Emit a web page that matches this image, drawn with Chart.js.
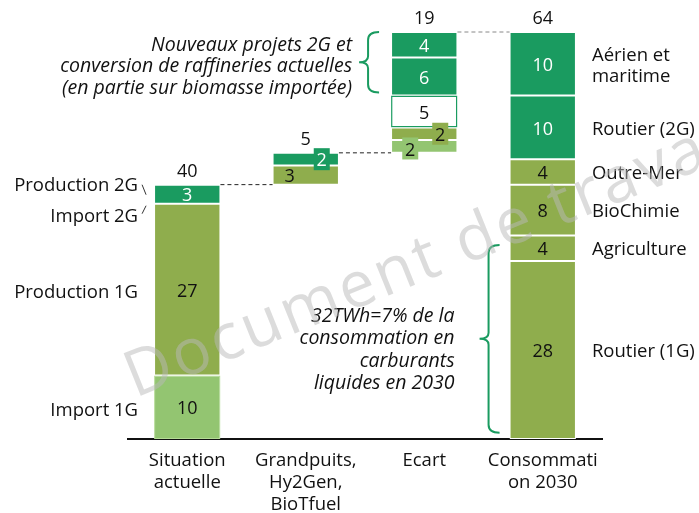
<!DOCTYPE html>
<html>
<head>
<meta charset="utf-8">
<script src="https://cdn.jsdelivr.net/npm/chart.js@4"></script>
<style>
  html, body { margin: 0; padding: 0; background: #fff; }
  #wrap { width: 699px; height: 513px; }
</style>
</head>
<body>
<div id="wrap"><canvas id="chart"></canvas></div>
<script>
const categories = [["Situation", "actuelle"], ["Grandpuits,", "Hy2Gen,", "BioTfuel"], "Ecart", ["Consommati", "on 2030"]];

const situationNames = ["Import 1G", "Production 1G", "Import 2G", "Production 2G"];
const situationValues = [10, 27, 0, 3];
const grandpuitsValues = [3, 2];
const ecartValues = [2, 2, 5, 6, 4];
const consommationNames = ["Routier (1G)", "Agriculture", "BioChimie", "Outre-Mer", "Routier (2G)", ["Aérien et", "maritime"]];
const consommationValues = [28, 4, 8, 4, 10, 10];

const ecartNote = ["Nouveaux projets 2G et", "conversion de raffineries actuelles", "(en partie sur biomasse importée)"];
const totalNote = ["32TWh=7% de la", "consommation en", "carburants", "liquides en 2030"];

const DARK = "#1a9b60";
const OLIVE = "#8fad4d";
const LIGHT = "#93c571";
const FONT = "'Open Sans', sans-serif";

const sum = arr => arr.reduce((a, b) => a + b, 0);

// columns of the waterfall
const columns = [
    { values: situationValues, base: 0, colors: [LIGHT, OLIVE, OLIVE, DARK] },
    { values: grandpuitsValues, base: sum(situationValues), colors: [OLIVE, DARK],
      labelStyle: [{ dx: -16 }, { dx: 16, box: true }] },
    { values: ecartValues, base: sum(situationValues) + sum(grandpuitsValues), colors: [LIGHT, OLIVE, "#ffffff", DARK, DARK],
      labelStyle: [{ dx: -14, dy: 2, box: true }, { dx: 16, box: true }, {}, {}, {}] },
    { values: consommationValues, base: 0, colors: [OLIVE, OLIVE, OLIVE, OLIVE, DARK, DARK] }
];

const datasets = [];
columns.forEach((col, c) => {
    let lo = col.base;
    col.values.forEach((v, s) => {
        const color = col.colors[s];
        datasets.push({
            data: categories.map((_, j) => (j === c ? [lo, lo + v] : null)),
            backgroundColor: color,
            borderColor: color === "#ffffff" ? DARK : (color === LIGHT && c === 0 ? "#b5dc96" : "#ffffff"),
            borderWidth: color === "#ffffff" ? 1.5 : 1,
            borderSkipped: false,
            col: c,
            seg: s,
            value: v,
            textColor: color === DARK ? "#ffffff" : "#111111",
            style: (col.labelStyle && col.labelStyle[s]) || {}
        });
        lo += v;
    });
});

function drawBrace(ctx, x, top, bottom) {
    const mid = (top + bottom) / 2;
    ctx.beginPath();
    ctx.moveTo(x + 11, top);
    ctx.quadraticCurveTo(x, top, x, top + 8);
    ctx.lineTo(x, mid - 6);
    ctx.quadraticCurveTo(x, mid, x - 9, mid);
    ctx.quadraticCurveTo(x, mid, x, mid + 6);
    ctx.lineTo(x, bottom - 8);
    ctx.quadraticCurveTo(x, bottom, x + 11, bottom);
    ctx.stroke();
}

const annotations = {
    id: "annotations",
    afterDatasetsDraw(chart) {
        const ctx = chart.ctx;
        const y = chart.scales.y;
        const bars = chart.data.datasets.map((ds, i) => ({ ds, el: chart.getDatasetMeta(i).data[ds.col] }));
        ctx.save();
        ctx.textAlign = "center";
        ctx.textBaseline = "middle";

        // value labels inside segments
        bars.forEach(({ ds, el }) => {
            if (!ds.value) return;
            const st = ds.style;
            const cx = el.x + (st.dx || 0);
            const cy = (el.y + el.base) / 2 + (st.dy || 0);
            if (st.box) {
                ctx.fillStyle = ds.backgroundColor;
                ctx.fillRect(cx - 8, cy - 11, 16, 22);
            }
            ctx.font = "18px " + FONT;
            ctx.fillStyle = ds.textColor;
            ctx.fillText(String(ds.value), cx, cy + 2);
        });

        // totals above each column + dashed connectors
        const tops = columns.map((col, c) => {
            const els = bars.filter(b => b.ds.col === c).map(b => b.el);
            return { x: els[0].x, w: els[0].width, top: y.getPixelForValue(col.base + sum(col.values)) };
        });
        ctx.font = "18px " + FONT;
        ctx.fillStyle = "#111";
        ctx.textBaseline = "bottom";
        columns.forEach((col, c) => {
            ctx.fillText(String(sum(col.values)), tops[c].x, tops[c].top - 4);
        });
        ctx.setLineDash([4, 3]);
        ctx.lineWidth = 1;
        for (let c = 0; c < 3; c++) {
            ctx.strokeStyle = c === 2 ? "#888" : "#222";
            ctx.beginPath();
            ctx.moveTo(tops[c].x + tops[c].w / 2, tops[c].top);
            ctx.lineTo(tops[c + 1].x - tops[c + 1].w / 2, tops[c].top);
            ctx.stroke();
        }
        ctx.setLineDash([]);

        // left names for Situation actuelle
        const sit = bars.filter(b => b.ds.col === 0);
        const leftDy = [4, 3, 13, -8];
        ctx.textAlign = "right";
        ctx.textBaseline = "middle";
        ctx.font = "18.5px " + FONT;
        sit.forEach(({ el }, s) => {
            const cy = (el.y + el.base) / 2 + leftDy[s];
            ctx.fillText(situationNames[s], el.x - el.width / 2 - 16, cy);
        });
        const sx = sit[0].el.x - sit[0].el.width / 2 - 9;
        const sy = y.getPixelForValue(37);
        ctx.strokeStyle = "#333";
        ctx.lineWidth = 1;
        ctx.beginPath();
        ctx.moveTo(sx - 3, sy - 19); ctx.lineTo(sx + 1, sy - 9);
        ctx.moveTo(sx + 1, sy + 2); ctx.lineTo(sx - 3, sy + 10);
        ctx.stroke();

        // right names for Consommation 2030
        const cons = bars.filter(b => b.ds.col === 3);
        ctx.textAlign = "left";
        cons.forEach(({ el }, s) => {
            const lines = [].concat(consommationNames[s]);
            const cy = (el.y + el.base) / 2 + 2;
            lines.forEach((t, k) => {
                ctx.fillText(t, el.x + el.width / 2 + 16, cy + (k - (lines.length - 1) / 2) * 21);
            });
        });

        // braces and notes
        ctx.strokeStyle = DARK;
        ctx.lineWidth = 2;
        const ec = tops[2];
        const b1x = ec.x - ec.w / 2 - 23;
        drawBrace(ctx, b1x, y.getPixelForValue(64), y.getPixelForValue(54) - 3);
        const co = tops[3];
        const b2x = co.x - co.w / 2 - 21;
        drawBrace(ctx, b2x, y.getPixelForValue(30.5), y.getPixelForValue(1));

        ctx.fillStyle = "#111";
        ctx.textAlign = "right";
        ctx.font = "italic 19.5px " + FONT;
        const m1 = (y.getPixelForValue(64) + y.getPixelForValue(54)) / 2;
        ecartNote.forEach((t, k) => ctx.fillText(t, b1x - 16, m1 + 3 + (k - 1) * 21.5));
        const m2 = (y.getPixelForValue(30.5) + y.getPixelForValue(1)) / 2;
        totalNote.forEach((t, k) => ctx.fillText(t, b2x - 34, m2 + (k - 1) * 22.5));

        // watermark
        ctx.translate(135, 398);
        ctx.rotate(-22 * Math.PI / 180);
        ctx.textAlign = "left";
        ctx.textBaseline = "alphabetic";
        ctx.font = "400 64px " + FONT;
        ctx.letterSpacing = "3px";
        ctx.fillStyle = "rgba(185,185,185,0.5)";
        ctx.fillText("Document de travail", 0, 0);
        ctx.restore();
    }
};

new Chart(document.getElementById("chart"), {
    type: "bar",
    data: { labels: categories, datasets: datasets },
    options: {
        responsive: true,
        maintainAspectRatio: false,
        animation: false,
        datasets: { bar: { grouped: false, categoryPercentage: 1, barPercentage: 0.56 } },
        layout: { padding: { left: 128, right: 97, top: 32, bottom: 0 } },
        plugins: { legend: { display: false }, tooltip: { enabled: false } },
        scales: {
            x: {
                grid: { display: false, drawTicks: false },
                border: { display: true, color: "#111", width: 2 },
                ticks: { color: "#111", padding: 11, maxRotation: 0, autoSkip: false,
                         font: { family: "'Open Sans', sans-serif", size: 18.5, lineHeight: 1.18 } },
                afterFit(scale) { scale.height = 74; }
            },
            y: { display: false, min: 0, max: 64 }
        }
    },
    plugins: [annotations]
});
</script>
</body>
</html>
